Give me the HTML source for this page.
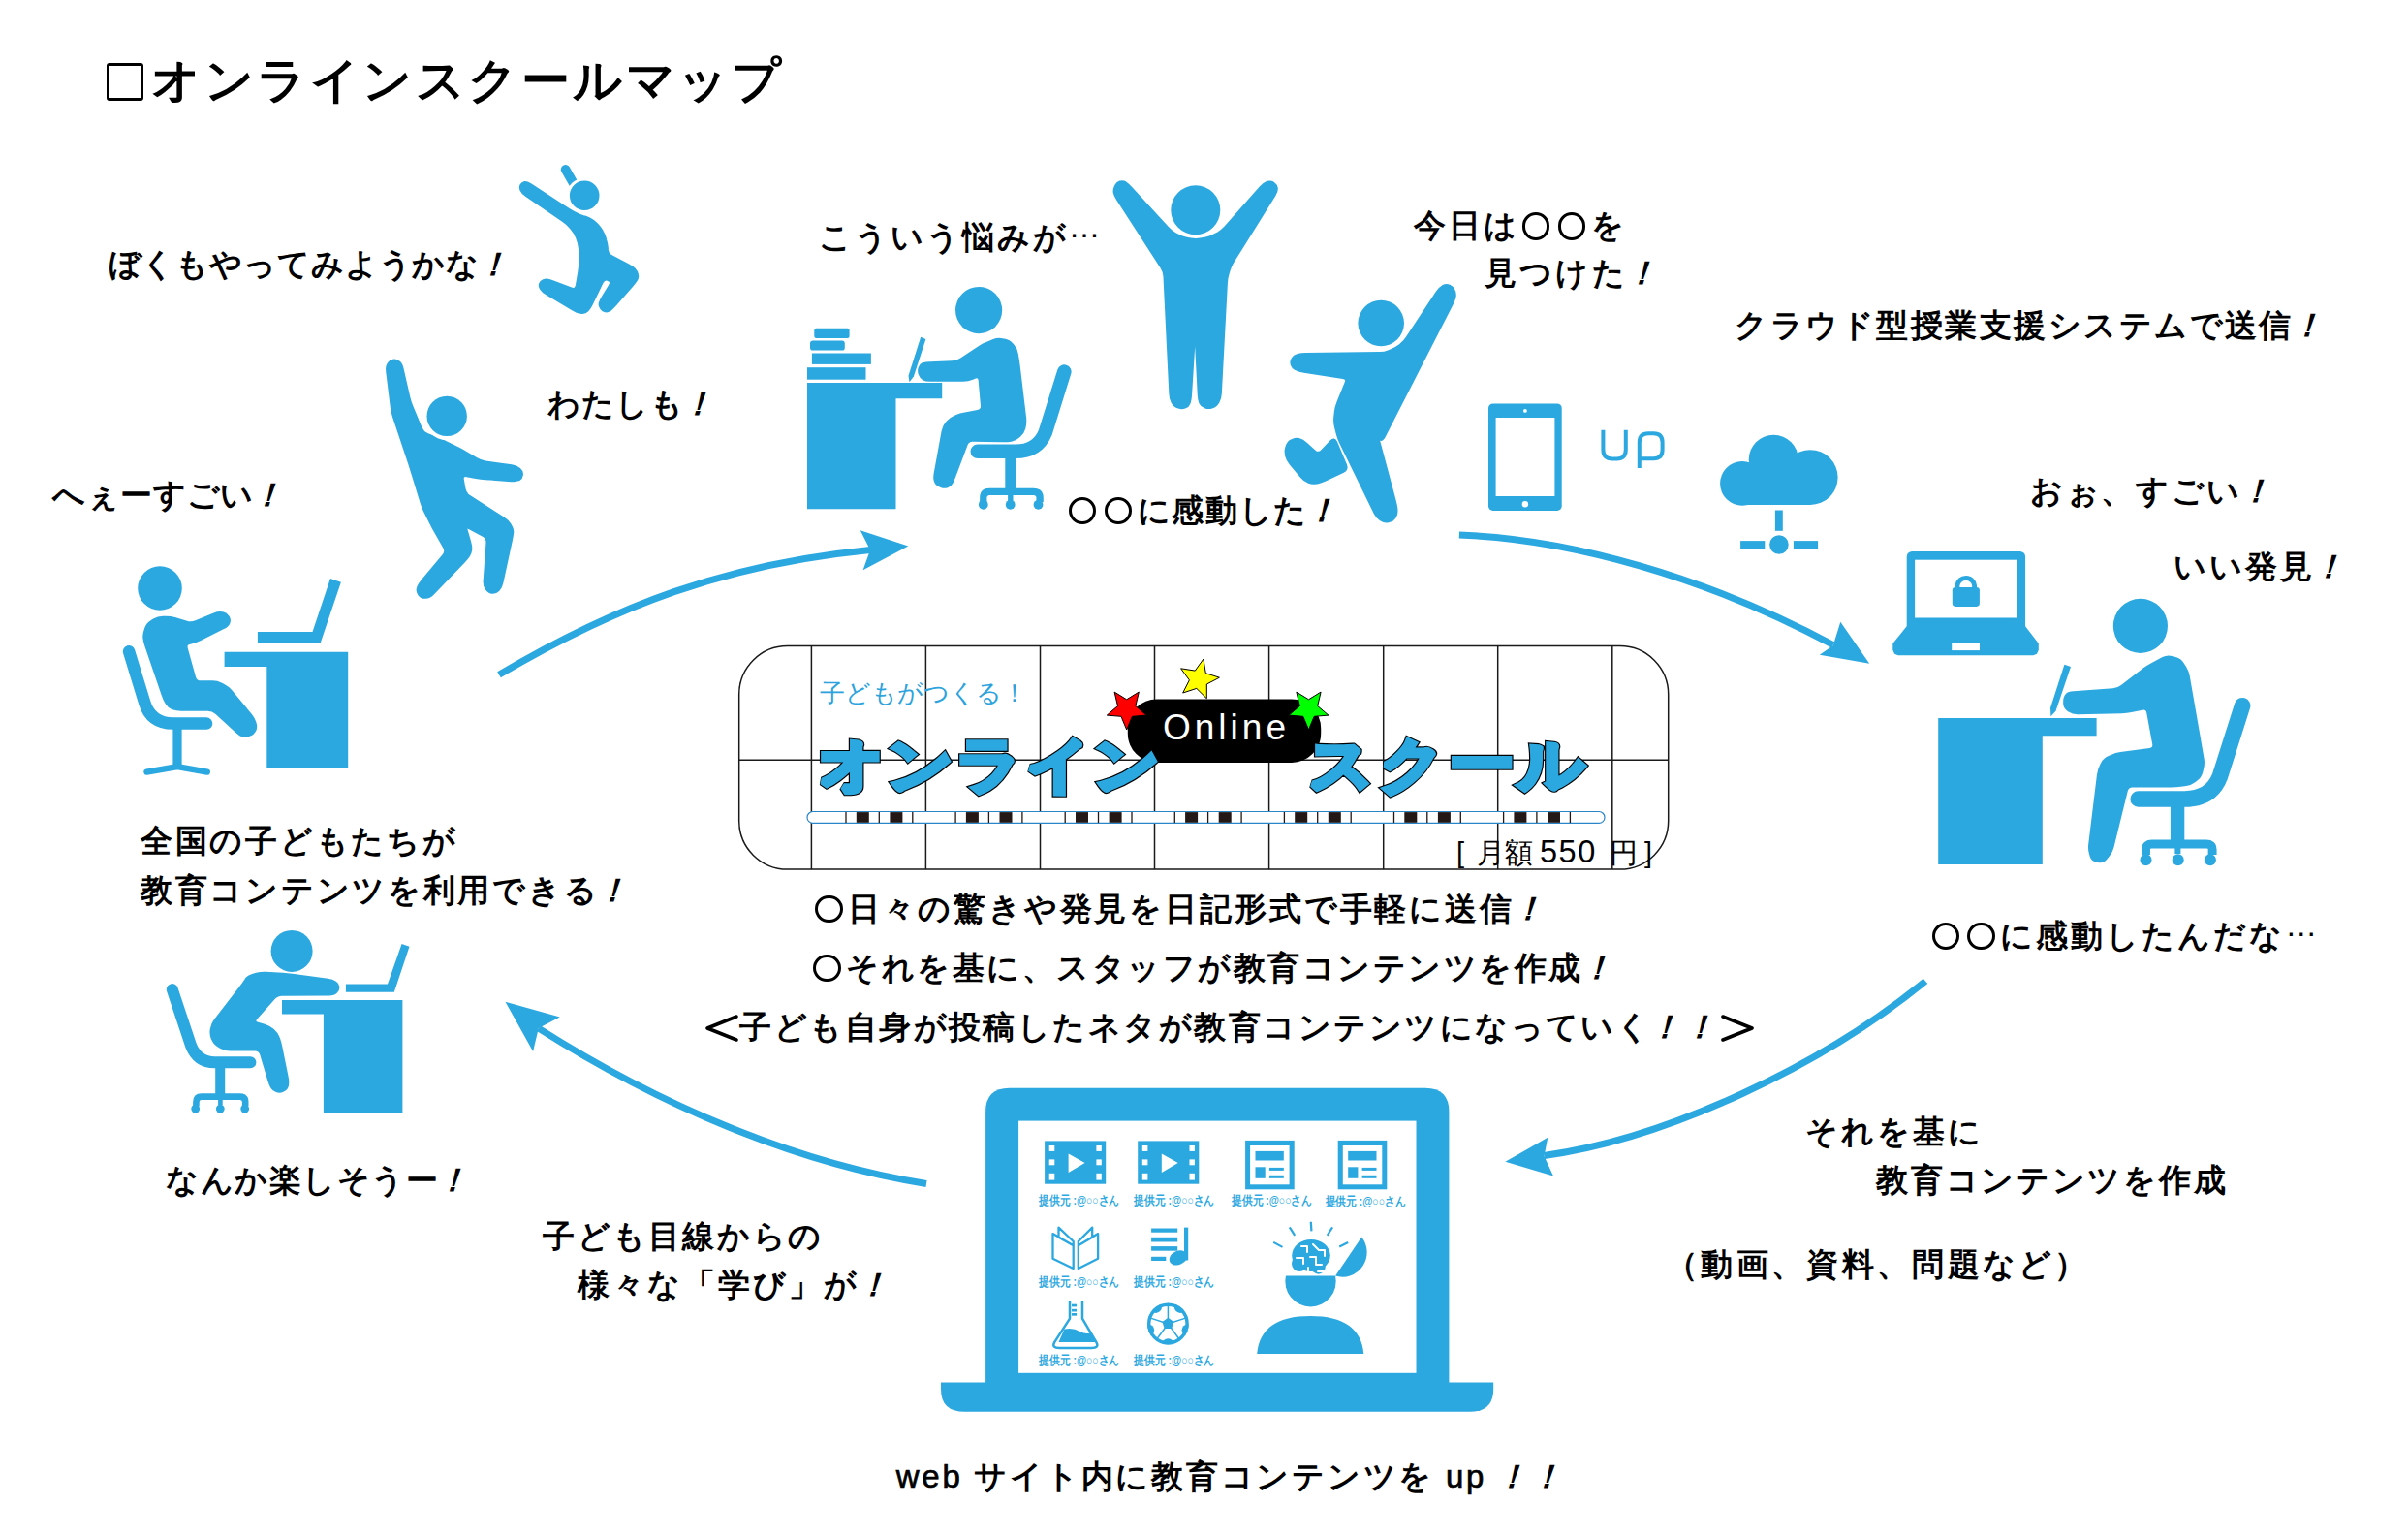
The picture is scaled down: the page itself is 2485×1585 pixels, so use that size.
<!DOCTYPE html>
<html><head><meta charset="utf-8">
<style>
html,body{margin:0;padding:0;background:#fff;}
#c{position:relative;width:2485px;height:1585px;overflow:hidden;background:#fff;}
.t{position:absolute;white-space:nowrap;font-family:"Liberation Sans",sans-serif;font-size:33px;letter-spacing:3px;line-height:1;color:#000;font-weight:bold;}
.o{display:inline-block;width:calc(1.02em + 3px);height:1em;position:relative;vertical-align:top;}
.o::after{content:"";position:absolute;left:.08em;top:.1em;width:.68em;height:.68em;border:.098em solid #000;border-radius:50%;}
.el{position:relative;top:-.32em;font-weight:normal}
svg{position:absolute;left:0;top:0;}
.br{display:inline-block;width:36px;height:33px;vertical-align:top;position:relative;}
svg.bs{position:absolute;left:0;top:0;}
.ex{display:inline-block;transform:skewX(-16deg);}
.lw{font-weight:normal;-webkit-text-stroke:.7px #000;}
</style></head><body><div id="c">
<svg width="2485" height="1585" viewBox="0 0 2485 1585">
<path d="M583.6,174.9 L591.9,189.3" fill="none" stroke="#2ca8e0" stroke-width="9.7" stroke-linecap="round" stroke-linejoin="round"/>
<path d="M537.6,195.7 Q536.6,193.2 537.6,191.3 L537.8,190.9 Q538.8,189 540.8,188.4 L541.2,188.3 Q543.2,187.7 547.4,190.4 L582.2,213.1 Q586.4,215.9 590.8,218.3 L593.1,219.6 Q597.5,222 602.2,223.4 L603.7,223.8 Q608.5,225.3 612.5,228.3 L613.4,228.9 Q617.4,231.9 620,236.2 L620.9,237.6 Q623.5,241.9 624.8,246.7 L625.1,248.1 Q626.4,252.9 626.7,257.2 L626.8,258.1 Q627.1,262.4 631.6,264.6 L648.3,273.3 Q652.8,275.6 654.8,277.9 L655.2,278.4 Q657.2,280.6 657.7,283.1 L657.8,283.7 Q658.3,286.1 657.1,288.4 L656.8,288.9 Q655.5,291.1 652.2,294.9 L635.1,314.5 Q631.8,318.2 629.8,319.7 L629.3,320.1 Q627.3,321.5 624.8,321.1 L624.3,320.9 Q621.8,320.4 620.3,318 L620,317.4 Q618.5,314.9 619,312.9 L619.1,312.5 Q619.6,310.5 622.2,306.2 L629.1,294.8 Q631.8,290.6 628,289.1 L627.2,288.7 Q623.5,287.2 621.3,291.8 L610.7,313.7 Q608.5,318.2 606.5,320.2 L606.1,320.7 Q604.1,322.7 601.1,322.7 L600.4,322.7 Q597.5,322.7 595.5,321.7 L595,321.4 Q593,320.4 588.7,317.9 L564.1,303.1 Q559.8,300.5 558.3,298 L558,297.5 Q556.5,295 557.3,293 L557.4,292.6 Q558.2,290.6 560.4,289.6 L560.9,289.3 Q563.2,288.4 565.1,288.9 L565.6,289 Q567.6,289.5 572.3,291.2 L589.5,297.7 Q594.1,299.4 595.1,294.5 L596.5,286.6 Q597.5,281.7 598,276.7 L598.6,270.1 Q599.1,265.1 598.5,260.2 L598,255.7 Q597.5,250.7 595.6,246.1 L594.9,244.3 Q593,239.7 589.7,235.9 L588.6,234.6 Q585.3,230.8 581.2,228 L542.9,201.6 Q538.8,198.7 537.8,196.2Z" fill="#2ca8e0" stroke="#2ca8e0" stroke-width="2.5" stroke-linejoin="round"/>
<circle cx="603.2" cy="201.8" r="18.3" fill="#fff"/>
<circle cx="603.2" cy="201.8" r="15.3" fill="#2ca8e0"/>
<path d="M399.3,380 Q399.3,377.6 400.9,375.2 L401.3,374.7 Q402.9,372.3 405.6,371.9 L406.2,371.8 Q409,371.4 411.4,373.4 L411.9,373.8 Q414.3,375.8 415.4,380.7 L422,409.6 Q423.1,414.5 425,419.1 L434.3,441.5 Q436.2,446.1 440.9,448.1 L452.7,453 Q457.3,454.9 461.8,457.2 L474,463.2 Q478.4,465.5 482.7,468 L491.7,473.4 Q496,476 501,476.7 L528,480.6 Q532.9,481.3 535.7,483.7 L536.3,484.2 Q539.1,486.6 538.7,489.7 L538.6,490.4 Q538.2,493.6 535.8,494.8 L535.3,495 Q532.9,496.2 527.9,495.9 L501,493.9 Q496,493.6 491.1,492.7 L481.6,491 Q476.7,490.1 477.6,495 L479.3,504.5 Q480.2,509.4 484.4,512.1 L519.9,534.8 Q524.1,537.5 526.5,541.5 L527,542.4 Q529.4,546.3 529,549.5 L528.9,550.2 Q528.5,553.4 527.5,558.2 L518.2,601.2 Q517.1,606.1 514.7,608.5 L514.2,609 Q511.8,611.4 508.7,611.4 L508,611.4 Q504.8,611.4 502.4,608.2 L501.9,607.5 Q499.5,604.3 499.9,599.3 L502.7,560.1 Q503,555.1 498.6,552.7 L484.6,545.2 Q480.2,542.8 481.6,547.6 L484.9,559.1 Q486.3,563.9 486,567.1 L485.9,567.8 Q485.5,570.9 483.9,573.3 L483.5,573.8 Q482,576.2 478.5,579.8 L446.7,613 Q443.3,616.6 439.3,616.6 L438.4,616.6 Q434.5,616.6 432.5,613.5 L432.1,612.8 Q430.1,609.6 431.3,606.4 L431.5,605.7 Q432.7,602.6 436,598.7 L457.6,573 Q460.9,569.2 458.4,564.8 L449.3,548.9 Q446.8,544.6 444.6,540.1 L438.5,527.9 Q436.2,523.5 434.8,518.7 L425.4,487.8 Q423.9,483 422.4,478.3 L406.2,429.8 Q404.6,425 404,420.1 L400,387.8 Q399.3,382.9 399.3,380.5Z" fill="#2ca8e0" stroke="#2ca8e0" stroke-width="2.5" stroke-linejoin="round"/>
<circle cx="461.2" cy="429.4" r="24.6" fill="#fff"/>
<circle cx="461.2" cy="429.4" r="20.7" fill="#2ca8e0"/>
<path d="M265.9,652 L322.5,652 L340.9,597 L351.9,600.8 L330.6,663.8 L265.9,663.8Z" fill="#2ca8e0"/>
<path d="M231.6,672.8 L359.2,672.8 L359.2,791.9 L275.3,791.9 L275.3,688 L231.6,688Z" fill="#2ca8e0"/>
<path d="M133.1,672.3 L149.1,724.7 Q155.3,746.6 178.8,746.6 L213.1,746.6" fill="none" stroke="#2ca8e0" stroke-width="12.5" stroke-linecap="round"/>
<rect x="178.4" y="746.6" width="9.2" height="43.8" rx="0" fill="#2ca8e0"/>
<path d="M151.4,796.6 L183.1,791.1 L213.9,796.6" fill="none" stroke="#2ca8e0" stroke-width="6.2" stroke-linecap="round" stroke-linejoin="round"/>
<path d="M148.6,657.9 Q148.3,654.4 150,649.7 L150.5,648.1 Q152.2,643.4 156.5,641 L158.8,639.7 Q163.1,637.2 168.1,637.1 L170.6,637 Q175.6,636.9 180.4,638.3 L192.7,642 Q197.5,643.4 202.1,641.5 L221,633.6 Q225.6,631.7 229.1,632.4 L229.9,632.6 Q233.4,633.3 235.2,636.1 L235.6,636.7 Q237.3,639.5 236.3,642.3 L236.1,643 Q235,645.8 230.5,648 L206.7,660 Q202.2,662.2 197.3,663.2 L196.1,663.5 Q191.2,664.5 192.6,669.3 L200.8,698.8 Q202.2,703.6 207.2,703.6 L219.1,703.6 Q224.1,703.6 228.5,705.8 L230.5,706.8 Q235,709.1 238.2,712.9 L259.1,738 Q262.3,741.9 263.4,746.1 L263.6,747 Q264.7,751.2 262.6,754.4 L262.1,755.1 Q260,758.3 255.8,759 L254.8,759.1 Q250.6,759.8 248.5,758.4 L248,758.1 Q245.9,756.7 242.2,753.3 L223.1,735.9 Q219.4,732.5 214.4,732.5 L186.9,732.5 Q181.9,732.5 178.4,731.1 L177.6,730.8 Q174.1,729.4 172,725.9 L171.5,725.1 Q169.4,721.6 167.8,716.8 L150.7,666.9 Q149.1,662.2 148.7,658.7Z" fill="#2ca8e0" stroke="#2ca8e0" stroke-width="2.5" stroke-linejoin="round"/>
<circle cx="165" cy="607" r="22.8" fill="#2ca8e0"/>
<path d="M356.9,1015.6 L400,1015.6 L414.6,973.9 L422.5,976.7 L406.8,1023.8 L356.9,1023.8Z" fill="#2ca8e0"/>
<path d="M291,1032 L415.4,1032 L415.4,1148.2 L333.9,1148.2 L333.9,1046.4 L291,1046.4Z" fill="#2ca8e0"/>
<path d="M177.8,1021.1 L196.9,1078.5 Q203.8,1096.3 221.5,1096.3 L258.4,1096.3" fill="none" stroke="#2ca8e0" stroke-width="12" stroke-linecap="round"/>
<rect x="222.2" y="1100.4" width="10" height="31.4" rx="0" fill="#2ca8e0"/>
<path d="M202.4,1141.4 L202.4,1137.3 Q202.4,1131.6 207.9,1131.6 L247.5,1131.6 Q253.2,1131.6 253.2,1137.3 L253.2,1141.4" fill="none" stroke="#2ca8e0" stroke-width="6.6"/>
<rect x="225.1" y="1131.6" width="4.6" height="8.5" rx="0" fill="#2ca8e0"/>
<circle cx="201.7" cy="1144.1" r="4.4" fill="#2ca8e0"/>
<circle cx="227.3" cy="1144.1" r="4.4" fill="#2ca8e0"/>
<circle cx="252.7" cy="1144.1" r="4.4" fill="#2ca8e0"/>
<path d="M253.9,1010.5 Q255.7,1007.4 260.5,1006.1 L264.6,1005 Q269.4,1003.7 274.4,1004 L291.7,1005.1 Q296.7,1005.4 301.7,1006 L338.3,1010.9 Q343.2,1011.5 345.7,1013.4 L346.2,1013.8 Q348.7,1015.6 349,1018.1 L349.1,1018.6 Q349.4,1021.1 347.2,1023.4 L346.7,1024 Q344.6,1026.3 339.6,1026.3 L290.8,1026.5 Q285.8,1026.6 282.5,1030.3 L264.5,1050.8 Q261.2,1054.6 266,1056 L272.8,1058 Q277.6,1059.4 281.3,1062.5 L282.1,1063.1 Q285.8,1066.2 287.3,1070.5 L287.7,1071.5 Q289.2,1075.8 290.2,1080.7 L296.4,1111.2 Q297.4,1116.1 296.8,1119.5 L296.7,1120.3 Q296,1123.6 292.7,1125.2 L291.9,1125.5 Q288.5,1127.1 285.4,1125.8 L284.8,1125.6 Q281.7,1124.3 280.5,1122.2 L280.2,1121.7 Q278.9,1119.5 277.5,1114.8 L269.5,1088.1 Q268,1083.3 263,1083.3 L237.5,1083.3 Q232.5,1083.3 228.1,1080.9 L225.9,1079.6 Q221.5,1077.2 219.6,1072.8 L219.1,1071.9 Q217.2,1067.6 217.9,1062.7 L218.1,1061.6 Q218.8,1056.6 221.9,1052.7 L248.5,1018.2 Q251.6,1014.3 253.5,1011.2Z" fill="#2ca8e0" stroke="#2ca8e0" stroke-width="2.5" stroke-linejoin="round"/>
<circle cx="301.1" cy="981.4" r="21.5" fill="#2ca8e0"/>
<circle cx="1010.1" cy="320.1" r="24.1" fill="#2ca8e0"/>
<rect x="840.3" y="338.8" width="36.3" height="10.1" rx="2" fill="#2ca8e0"/>
<rect x="836" y="351.5" width="35.8" height="10.1" rx="2.9" fill="#2ca8e0"/>
<rect x="837.9" y="364.5" width="61" height="11.4" rx="0" fill="#2ca8e0"/>
<rect x="833" y="379.2" width="60.5" height="12.5" rx="0" fill="#2ca8e0"/>
<path d="M833,395 L972.2,395 L972.2,411.3 L924.5,411.3 L924.5,525.2 L833,525.2Z" fill="#2ca8e0"/>
<path d="M950.2,347.8 L955.4,349.9 L942.9,388.5 L938.5,394.2 L937.5,387.7Z" fill="#2ca8e0"/>
<path d="M949.1,379.2 Q950.2,376.3 952.4,375.5 L952.9,375.4 Q955.1,374.6 960.1,374.4 L982.6,373.5 Q987.6,373.3 991.8,370.6 L1011.1,357.9 Q1015.3,355.1 1020,353.3 L1025.3,351.2 Q1030,349.4 1034.8,350.5 L1036.5,350.8 Q1041.4,351.8 1044.7,355.5 L1045.4,356.3 Q1048.7,360 1049.5,364.9 L1050.3,369.7 Q1051.1,374.6 1051.7,379.6 L1057.9,431.5 Q1058.4,436.5 1057.3,440.9 L1057.1,441.9 Q1056,446.2 1052.3,449.5 L1051.5,450.3 Q1047.9,453.6 1044.2,454.3 L1043.4,454.5 Q1039.7,455.2 1034.7,455.1 L1004,454.5 Q999,454.4 997.3,459.1 L986.1,488.8 Q984.4,493.5 982.9,496.7 L982.6,497.5 Q981.1,500.8 978.2,501.9 L977.6,502.1 Q974.6,503.2 971,501.8 L970.1,501.4 Q966.5,500 965.4,497 L965.1,496.4 Q964,493.5 964.9,488.5 L972.9,444.7 Q973.8,439.7 977.1,436.1 L977.8,435.3 Q981.1,431.6 985.5,429.8 L986.5,429.4 Q990.9,427.5 995.8,426.7 L1008.8,424.3 Q1013.7,423.5 1013.2,418.5 L1010.9,392.6 Q1010.4,387.7 1005.8,389.6 L1003.6,390.6 Q999,392.5 994,392.5 L960.1,392.5 Q955.1,392.5 952.9,391.1 L952.4,390.7 Q950.2,389.3 949.1,386.4 L948.9,385.7 Q947.8,382.8 948.9,379.8Z" fill="#2ca8e0" stroke="#2ca8e0" stroke-width="2.5" stroke-linejoin="round"/>
<path d="M1098.3,383.6 L1078.8,446.2 Q1070.7,465.8 1047.9,465.8 L1008.8,465.8" fill="none" stroke="#2ca8e0" stroke-width="14.6" stroke-linecap="round"/>
<rect x="1037.3" y="470.7" width="11.4" height="36.6" rx="0" fill="#2ca8e0"/>
<path d="M1014.8,517.9 L1014.8,513.8 Q1014.8,507.3 1021.3,507.3 L1066.6,507.3 Q1073.1,507.3 1073.1,513.8 L1073.1,517.9" fill="none" stroke="#2ca8e0" stroke-width="7.3"/>
<rect x="1040.1" y="507.3" width="5.4" height="9.8" rx="0" fill="#2ca8e0"/>
<circle cx="1014.8" cy="520.8" r="4.9" fill="#2ca8e0"/>
<circle cx="1042.7" cy="520.8" r="4.9" fill="#2ca8e0"/>
<circle cx="1071.5" cy="520.8" r="4.9" fill="#2ca8e0"/>
<path d="M1149.9,198.2 Q1149.6,195.7 1151,192.5 L1151.3,191.8 Q1152.8,188.6 1155.6,187.8 L1156.3,187.7 Q1159.1,187 1161.3,188.4 L1161.8,188.7 Q1163.9,190.2 1167.3,193.8 L1205.2,235.1 Q1208.6,238.8 1212.9,241.3 L1215.4,242.7 Q1219.8,245.2 1224.7,246 L1228.9,246.7 Q1233.8,247.6 1238.7,246.8 L1243.5,246 Q1248.5,245.2 1252.8,242.7 L1256.9,240.5 Q1261.2,238 1264.5,234.3 L1301,193.1 Q1304.3,189.4 1307.5,188.3 L1308.2,188 Q1311.5,187 1314,188.8 L1314.5,189.2 Q1317.1,191 1317.4,193.8 L1317.5,194.5 Q1317.9,197.3 1315.2,201.6 L1272.7,269.7 Q1270,273.9 1268.5,278.7 L1267.5,281.9 Q1266,286.7 1265.7,291.7 L1259.6,406.1 Q1259.3,411.1 1257.3,414.7 L1256.9,415.5 Q1254.9,419.1 1251.3,420.1 L1250.5,420.4 Q1246.9,421.5 1243.6,420 L1242.9,419.7 Q1239.7,418.3 1238.6,415.7 L1238.4,415.2 Q1237.3,412.7 1237,407.7 L1233.6,341.1 Q1233.3,336.1 1233,341.1 L1228.8,407.7 Q1228.5,412.7 1227.5,415.5 L1227.2,416.2 Q1226.1,419.1 1223.3,420.1 L1222.6,420.4 Q1219.8,421.5 1216.2,420.4 L1215.4,420.1 Q1211.8,419.1 1210,415.5 L1209.6,414.7 Q1207.8,411.1 1207.6,406.1 L1201.7,285.3 Q1201.4,280.3 1198.7,276.1 L1153.1,205.5 Q1150.4,201.3 1150,198.8Z" fill="#2ca8e0" stroke="#2ca8e0" stroke-width="2.5" stroke-linejoin="round"/>
<circle cx="1233.8" cy="216.8" r="25.5" fill="#2ca8e0"/>
<path d="M1332.9,375.9 Q1332.1,373.2 1333.6,370.5 L1334,369.8 Q1335.5,367.1 1338.6,366.4 L1339.3,366.2 Q1342.4,365.4 1347.4,365.3 L1423.7,364.3 Q1428.7,364.2 1433.3,362.3 L1436.1,361.2 Q1440.8,359.4 1444.7,356.3 L1445.5,355.6 Q1449.4,352.5 1452.1,348.3 L1482.9,301.4 Q1485.6,297.3 1488.7,295.5 L1489.4,295.2 Q1492.5,293.5 1495.6,294.8 L1496.3,295.1 Q1499.4,296.4 1500.6,299.9 L1500.9,300.7 Q1502,304.2 1501.2,306.9 L1501.1,307.5 Q1500.3,310.2 1498,314.6 L1428.4,450.7 Q1426.1,455.1 1424.2,453.2 L1423.7,452.7 Q1421.8,450.8 1423.1,455.6 L1439.5,516.7 Q1440.8,521.5 1441.2,525.4 L1441.2,526.3 Q1441.6,530.2 1439.7,533.3 L1439.3,534 Q1437.3,537.1 1433.4,537.9 L1432.6,538 Q1428.7,538.8 1425.2,536.5 L1424.4,536 Q1420.9,533.6 1418.7,529.1 L1383.4,457 Q1381.2,452.5 1380,447.7 L1378.1,440.1 Q1376.9,435.3 1377.5,430.3 L1378.1,424.7 Q1378.7,419.8 1380.6,415.1 L1388.8,395 Q1390.7,390.4 1385.8,389.7 L1345.6,383.4 Q1340.7,382.7 1337.6,381.1 L1336.9,380.8 Q1333.8,379.2 1333,376.5Z" fill="#2ca8e0" stroke="#2ca8e0" stroke-width="2.5" stroke-linejoin="round"/>
<path d="M1373.5,455.3 Q1376.9,451.7 1378.9,456.3 L1388.8,479.8 Q1390.7,484.5 1386.2,486.6 L1367.7,495.3 Q1363.1,497.4 1359.3,498.2 L1358.4,498.3 Q1354.5,499.1 1350.6,497.6 L1349.8,497.2 Q1345.9,495.7 1342.7,491.8 L1331.8,478.8 Q1328.6,475 1327.5,470.7 L1327.2,469.7 Q1326,465.5 1327.6,461.2 L1327.9,460.3 Q1329.5,456 1333,454.4 L1333.8,454.1 Q1337.3,452.5 1340.4,453.3 L1341,453.5 Q1344.2,454.3 1347.9,457.6 L1356.8,465.6 Q1360.5,468.9 1364,465.3Z" fill="#2ca8e0" stroke="#2ca8e0" stroke-width="2.5" stroke-linejoin="round"/>
<circle cx="1425.2" cy="333.5" r="23.8" fill="#2ca8e0"/>
<rect x="1536" y="416.4" width="75.7" height="110.5" rx="4.7" fill="#2ca8e0"/>
<rect x="1543.6" y="431" width="60.8" height="81" rx="0" fill="#fff"/>
<circle cx="1573.9" cy="423.9" r="1.9" fill="#fff"/>
<circle cx="1573.9" cy="520.2" r="3.2" fill="#fff"/>
<path d="M1654.4,443.7 V464 Q1654.4,473.4 1664,473.4 H1668.5 Q1677.8,473.4 1677.8,464 V443.7" fill="none" stroke="#2ca8e0" stroke-width="4"/>
<path d="M1691.8,483.1 V456.5 Q1691.8,447.3 1701,447.3 H1706.5 Q1715.6,447.3 1715.6,456.5 V464 Q1715.6,473.2 1706.5,473.2 H1691.8" fill="none" stroke="#2ca8e0" stroke-width="4"/>
<circle cx="1798" cy="498.9" r="22.9" fill="#2ca8e0"/>
<circle cx="1830.3" cy="474.4" r="25.6" fill="#2ca8e0"/>
<circle cx="1868.2" cy="492.6" r="28.4" fill="#2ca8e0"/>
<rect x="1798" y="492.6" width="70.2" height="28.4" rx="0" fill="#2ca8e0"/>
<rect x="1831.9" y="526.5" width="7.9" height="21.3" rx="0" fill="#2ca8e0"/>
<circle cx="1835.9" cy="562" r="9.8" fill="#2ca8e0"/>
<rect x="1796.1" y="558.1" width="25.2" height="8.7" rx="0" fill="#2ca8e0"/>
<rect x="1850.9" y="558.1" width="25.2" height="8.7" rx="0" fill="#2ca8e0"/>
<rect x="1967.7" y="568.9" width="122.4" height="84.1" rx="5.5" fill="#2ca8e0"/>
<rect x="1976.1" y="577.7" width="105.1" height="59.8" rx="0" fill="#fff"/>
<path d="M1967.7,646.3 L2090.1,646.3 L2103.8,664 L2103.8,670.7 L2102,674.7 L2098.3,676.2 L1958.8,676.2 L1955.1,674.7 L1953.3,670.7 L1953.3,664Z" fill="#2ca8e0"/>
<rect x="2014.2" y="663.6" width="28.8" height="7.5" rx="0" fill="#fff"/>
<rect x="2014.8" y="606" width="28.1" height="19.9" rx="3.3" fill="#2ca8e0"/>
<path d="M2019.9,607.6 V604.3 A8.9,8.9 0 0 1 2037.6,604.3 V607.6" fill="none" stroke="#2ca8e0" stroke-width="4.9"/>
<path d="M2000.2,741.1 L2163.6,741.1 L2163.6,759.2 L2107.8,759.2 L2107.8,892 L2000.2,892Z" fill="#2ca8e0"/>
<path d="M2130.4,685.7 L2137,687.9 L2121.5,733.8 L2116.4,739.3 L2116,730.4Z" fill="#2ca8e0"/>
<path d="M2130.4,724.4 Q2130.4,719.4 2132.4,717.4 L2132.8,716.9 Q2134.8,714.9 2139.8,714.6 L2180.7,711.6 Q2185.7,711.2 2189.7,708.1 L2212.7,690.3 Q2216.7,687.3 2221.1,685 L2232.2,679.2 Q2236.6,676.9 2241.4,678.2 L2245.1,679.3 Q2249.9,680.6 2252.6,684.9 L2255,688.6 Q2257.6,692.8 2258.5,697.7 L2273.4,783.1 Q2274.2,788 2273,792.8 L2272.1,796.4 Q2270.9,801.3 2267,804.3 L2264.9,806 Q2261,809 2256,809.7 L2250.4,810.5 Q2245.5,811.2 2240.5,811.2 L2200.7,811.2 Q2195.7,811.2 2194.5,816.1 L2180.3,873.9 Q2179.1,878.8 2175.9,882.7 L2173.3,885.9 Q2170.2,889.8 2165.3,888.8 L2164,888.6 Q2159.1,887.6 2157.7,882.8 L2157.3,881.3 Q2155.8,876.5 2156.4,871.6 L2165.2,799.6 Q2165.8,794.6 2168,790.2 L2169.1,788 Q2171.3,783.6 2175.9,781.5 L2178.9,780.1 Q2183.5,778 2188.4,777.3 L2218.4,773.2 Q2223.3,772.5 2222.4,767.6 L2216.5,735.4 Q2215.6,730.4 2210.7,731.5 L2199.5,733.8 Q2194.6,734.9 2189.6,735 L2144.2,735.9 Q2139.2,736 2135.2,733.5 L2134.4,732.9 Q2130.4,730.4 2130.4,725.5Z" fill="#2ca8e0" stroke="#2ca8e0" stroke-width="2.5" stroke-linejoin="round"/>
<circle cx="2208.9" cy="645.9" r="28.1" fill="#2ca8e0"/>
<path d="M2314.1,728.2 L2290.9,801.3 Q2282,824.5 2254.3,824.5 L2206.7,824.5" fill="none" stroke="#2ca8e0" stroke-width="16.6" stroke-linecap="round"/>
<rect x="2239.9" y="831.2" width="14.4" height="39.8" rx="0" fill="#2ca8e0"/>
<path d="M2214.5,882.1 V876.5 Q2214.5,871 2220.7,871 H2276.9 Q2283.1,871 2283.1,876.5 V882.1" fill="none" stroke="#2ca8e0" stroke-width="8.9"/>
<rect x="2244.4" y="871" width="6" height="10" rx="0" fill="#2ca8e0"/>
<circle cx="2214.5" cy="887.2" r="6" fill="#2ca8e0"/>
<circle cx="2247.7" cy="887.2" r="6" fill="#2ca8e0"/>
<circle cx="2280.9" cy="887.2" r="6" fill="#2ca8e0"/>
<path d="M1017.1,1428.5 V1147.2 Q1017.1,1122.7 1041.6,1122.7 H1470.9 Q1495.4,1122.7 1495.4,1147.2 V1428.5 Z" fill="#2ca8e0"/>
<rect x="1051.1" y="1156.6" width="410.4" height="260.2" rx="0" fill="#fff"/>
<path d="M971,1426.6 H1541.2 V1433.4 Q1541.2,1456.7 1516.7,1456.7 H995.5 Q971,1456.7 971,1433.4 Z" fill="#2ca8e0"/>
<rect x="1078.1" y="1177.4" width="63.1" height="44.3" rx="0" fill="#2ca8e0"/>
<rect x="1082.7" y="1182" width="5.6" height="5.9" rx="0" fill="#fff"/>
<rect x="1131.4" y="1182" width="5.4" height="5.9" rx="0" fill="#fff"/>
<rect x="1082.7" y="1196.4" width="5.6" height="5.9" rx="0" fill="#fff"/>
<rect x="1131.4" y="1196.4" width="5.4" height="5.9" rx="0" fill="#fff"/>
<rect x="1082.7" y="1210.8" width="5.6" height="6.8" rx="0" fill="#fff"/>
<rect x="1131.4" y="1210.8" width="5.4" height="6.8" rx="0" fill="#fff"/>
<path d="M1102.6,1190.5 L1102.6,1209.9 L1119.6,1200.1Z" fill="#fff"/>
<rect x="1174.2" y="1177.4" width="63.1" height="44.3" rx="0" fill="#2ca8e0"/>
<rect x="1178.8" y="1182" width="5.6" height="5.9" rx="0" fill="#fff"/>
<rect x="1227.5" y="1182" width="5.4" height="5.9" rx="0" fill="#fff"/>
<rect x="1178.8" y="1196.4" width="5.6" height="5.9" rx="0" fill="#fff"/>
<rect x="1227.5" y="1196.4" width="5.4" height="5.9" rx="0" fill="#fff"/>
<rect x="1178.8" y="1210.8" width="5.6" height="6.8" rx="0" fill="#fff"/>
<rect x="1227.5" y="1210.8" width="5.4" height="6.8" rx="0" fill="#fff"/>
<path d="M1198.8,1190.5 L1198.8,1209.9 L1215.7,1200.1Z" fill="#fff"/>
<path d="M1086.5,1273.1 L1107.7,1285.3 L1107.7,1309 L1086.5,1298.8 Z M1133.1,1273.1 L1112.8,1285.3 L1112.8,1309 L1133.1,1298.8 Z M1092.5,1266.6 L1107.7,1281 L1107.7,1285.3 L1092.5,1276.8 Z M1127.2,1266.6 L1112.8,1281 L1112.8,1285.3 L1127.2,1276.8 Z" fill="none" stroke="#2ca8e0" stroke-width="2.3" stroke-linejoin="round"/>
<rect x="1188.1" y="1267.5" width="27.1" height="4.2" rx="0" fill="#2ca8e0"/>
<rect x="1188.1" y="1276.8" width="27.1" height="4.7" rx="0" fill="#2ca8e0"/>
<rect x="1188.1" y="1286.1" width="27.1" height="4.6" rx="0" fill="#2ca8e0"/>
<rect x="1188.1" y="1296.8" width="15.2" height="4.2" rx="0" fill="#2ca8e0"/>
<rect x="1222" y="1266.6" width="4.2" height="33.9" rx="0" fill="#2ca8e0"/>
<ellipse cx="1216" cy="1297.9" rx="9.8" ry="7.1" fill="#2ca8e0" transform="rotate(-25 1216 1297.9)"/>
<path d="M1104,1342 V1360.6 L1088.2,1385.1 Q1084.9,1391 1093.3,1391 H1126.3 Q1134.8,1391 1131.4,1385.1 L1117,1360.6 V1342" fill="none" stroke="#2ca8e0" stroke-width="2.5" stroke-linejoin="round"/>
<rect x="1106" y="1345.7" width="5.1" height="2.7" rx="0" fill="#2ca8e0"/>
<rect x="1106" y="1350.8" width="5.1" height="2.7" rx="0" fill="#2ca8e0"/>
<rect x="1106" y="1355" width="5.1" height="2.7" rx="0" fill="#2ca8e0"/>
<path d="M1098.4,1371.6 Q1107.7,1369.9 1114.5,1374.1 Q1121.2,1377.5 1126.3,1375 L1130.6,1385.1 H1092.5 Z" fill="#2ca8e0"/>
<defs><clipPath id="ballclip"><circle cx="1205.4" cy="1366" r="21.4"/></clipPath></defs>
<circle cx="1205.4" cy="1366" r="19.7" fill="#fff" stroke="#2ca8e0" stroke-width="3.4"/>
<g clip-path="url(#ballclip)">
<path d="M1205.4,1359.7 L1211.4,1364.1 L1209.1,1371.1 L1201.7,1371.1 L1199.4,1364.1Z" fill="#2ca8e0"/>
<path d="M1205.4,1366 L1205.4,1344.6" fill="none" stroke="#2ca8e0" stroke-width="1.5" stroke-linecap="butt" stroke-linejoin="round"/>
<circle cx="1218" cy="1348.7" r="6.2" fill="#2ca8e0"/>
<path d="M1205.4,1366 L1225.8,1359.4" fill="none" stroke="#2ca8e0" stroke-width="1.5" stroke-linecap="butt" stroke-linejoin="round"/>
<circle cx="1225.8" cy="1372.6" r="6.2" fill="#2ca8e0"/>
<path d="M1205.4,1366 L1218,1383.3" fill="none" stroke="#2ca8e0" stroke-width="1.5" stroke-linecap="butt" stroke-linejoin="round"/>
<circle cx="1205.4" cy="1387.4" r="6.2" fill="#2ca8e0"/>
<path d="M1205.4,1366 L1192.8,1383.3" fill="none" stroke="#2ca8e0" stroke-width="1.5" stroke-linecap="butt" stroke-linejoin="round"/>
<circle cx="1185" cy="1372.6" r="6.2" fill="#2ca8e0"/>
<path d="M1205.4,1366 L1185,1359.4" fill="none" stroke="#2ca8e0" stroke-width="1.5" stroke-linecap="butt" stroke-linejoin="round"/>
<circle cx="1192.8" cy="1348.7" r="6.2" fill="#2ca8e0"/>
</g>
<rect x="1285.1" y="1176.9" width="50.6" height="50.4" rx="0" fill="#2ca8e0"/>
<rect x="1290.1" y="1182" width="40.5" height="40.3" rx="0" fill="#fff"/>
<rect x="1295.5" y="1187.9" width="29.3" height="9.6" rx="0" fill="#2ca8e0"/>
<rect x="1295.5" y="1204.3" width="10.2" height="11.5" rx="0" fill="#2ca8e0"/>
<rect x="1309.9" y="1204.9" width="14.9" height="3" rx="0" fill="#2ca8e0"/>
<rect x="1309.9" y="1212.8" width="14.9" height="3" rx="0" fill="#2ca8e0"/>
<rect x="1380.7" y="1176.9" width="50.6" height="50.4" rx="0" fill="#2ca8e0"/>
<rect x="1385.8" y="1182" width="40.5" height="40.3" rx="0" fill="#fff"/>
<rect x="1391.2" y="1187.9" width="29.3" height="9.6" rx="0" fill="#2ca8e0"/>
<rect x="1391.2" y="1204.3" width="10.2" height="11.5" rx="0" fill="#2ca8e0"/>
<rect x="1405.6" y="1204.9" width="14.9" height="3" rx="0" fill="#2ca8e0"/>
<rect x="1405.6" y="1212.8" width="14.9" height="3" rx="0" fill="#2ca8e0"/>
<path d="M1297.2,1397 Q1300.6,1358 1352.2,1358 Q1403.9,1358 1407.3,1397 Z" fill="#2ca8e0"/>
<path d="M1326.9,1316.6 A26.2,26.2 0 1 0 1378.1,1316.6 Z" fill="#2ca8e0"/>
<path d="M1378.1,1316.6 A25.4,25.4 0 0 0 1405.2,1276.5 Z" fill="#2ca8e0"/>
<ellipse cx="1353" cy="1295.5" rx="19.8" ry="16.5" fill="#2ca8e0"/>
<circle cx="1360.5" cy="1307.5" r="7.2" fill="#2ca8e0"/>
<circle cx="1341" cy="1304" r="8" fill="#2ca8e0"/>
<path d="M1314.2,1281.9 L1323.5,1286.9" fill="none" stroke="#2ca8e0" stroke-width="2.2" stroke-linecap="butt" stroke-linejoin="round"/>
<path d="M1330.8,1266.3 L1336.2,1274.8" fill="none" stroke="#2ca8e0" stroke-width="2.2" stroke-linecap="butt" stroke-linejoin="round"/>
<path d="M1352.8,1260.7 L1353.4,1270.4" fill="none" stroke="#2ca8e0" stroke-width="2.2" stroke-linecap="butt" stroke-linejoin="round"/>
<path d="M1369.7,1274.8 L1375.1,1266.3" fill="none" stroke="#2ca8e0" stroke-width="2.2" stroke-linecap="butt" stroke-linejoin="round"/>
<path d="M1382.2,1286.6 L1391.2,1281.9" fill="none" stroke="#2ca8e0" stroke-width="2.2" stroke-linecap="butt" stroke-linejoin="round"/>
<path d="M1343,1286 L1349,1286 L1349,1292" fill="none" stroke="#fff" stroke-width="2" stroke-linecap="round" stroke-linejoin="round"/>
<path d="M1355,1284 L1361,1290 L1367,1290 L1367,1296" fill="none" stroke="#fff" stroke-width="2" stroke-linecap="round" stroke-linejoin="round"/>
<path d="M1338,1298 L1345,1298 L1345,1304" fill="none" stroke="#fff" stroke-width="2" stroke-linecap="round" stroke-linejoin="round"/>
<path d="M1352,1297 L1358,1297 L1358,1305 L1364,1305" fill="none" stroke="#fff" stroke-width="2" stroke-linecap="round" stroke-linejoin="round"/>
<path d="M1350,1308 L1350,1313" fill="none" stroke="#fff" stroke-width="2" stroke-linecap="round" stroke-linejoin="round"/>
<path d="M1360,1312 L1366,1312" fill="none" stroke="#fff" stroke-width="2" stroke-linecap="round" stroke-linejoin="round"/>
<text x="1072.2" y="1242.6" font-family="Liberation Sans, sans-serif" font-size="12.5" font-weight="bold" fill="#2ca8e0" textLength="83" lengthAdjust="spacingAndGlyphs">提供元 :@○○さん</text>
<text x="1170.3" y="1242.6" font-family="Liberation Sans, sans-serif" font-size="12.5" font-weight="bold" fill="#2ca8e0" textLength="83" lengthAdjust="spacingAndGlyphs">提供元 :@○○さん</text>
<text x="1271" y="1243" font-family="Liberation Sans, sans-serif" font-size="12.5" font-weight="bold" fill="#2ca8e0" textLength="83" lengthAdjust="spacingAndGlyphs">提供元 :@○○さん</text>
<text x="1367.5" y="1243.5" font-family="Liberation Sans, sans-serif" font-size="12.5" font-weight="bold" fill="#2ca8e0" textLength="83" lengthAdjust="spacingAndGlyphs">提供元 :@○○さん</text>
<text x="1072.2" y="1327.2" font-family="Liberation Sans, sans-serif" font-size="12.5" font-weight="bold" fill="#2ca8e0" textLength="83" lengthAdjust="spacingAndGlyphs">提供元 :@○○さん</text>
<text x="1170.3" y="1327.2" font-family="Liberation Sans, sans-serif" font-size="12.5" font-weight="bold" fill="#2ca8e0" textLength="83" lengthAdjust="spacingAndGlyphs">提供元 :@○○さん</text>
<text x="1072.2" y="1407.8" font-family="Liberation Sans, sans-serif" font-size="12.5" font-weight="bold" fill="#2ca8e0" textLength="83" lengthAdjust="spacingAndGlyphs">提供元 :@○○さん</text>
<text x="1170.3" y="1407.8" font-family="Liberation Sans, sans-serif" font-size="12.5" font-weight="bold" fill="#2ca8e0" textLength="83" lengthAdjust="spacingAndGlyphs">提供元 :@○○さん</text>
<path d="M515,696.3 C635.5,625 748.7,582 898,567.4" fill="none" stroke="#2ca8e0" stroke-width="7"/>
<path d="M937.3,563.6 L887.8,547.2 L898,567.4 L890.6,588.3Z" fill="#2ca8e0"/>
<path d="M1505.9,552 C1620,556 1760,595 1891.8,665.5" fill="none" stroke="#2ca8e0" stroke-width="7"/>
<path d="M1929.2,684.7 L1899.3,641.8 L1891.8,666 L1877.8,675.8Z" fill="#2ca8e0"/>
<path d="M1987,1012.4 C1880,1100 1720,1175 1593.5,1192.5" fill="none" stroke="#2ca8e0" stroke-width="7"/>
<path d="M1553.4,1198.7 L1597.3,1173.8 L1593.5,1192.9 L1603,1213.6Z" fill="#2ca8e0"/>
<path d="M956,1221.5 C820,1200 680,1140 555.8,1061.1" fill="none" stroke="#2ca8e0" stroke-width="7"/>
<path d="M521.5,1033.8 L577.8,1049.6 L555.8,1061.1 L550.1,1085Z" fill="#2ca8e0"/>
<rect x="762.7" y="666.6" width="959" height="230.5" rx="50" fill="none" stroke="#1a1a1a" stroke-width="1.5"/>
<line x1="837.4" y1="666.6" x2="837.4" y2="897.1" stroke="#1a1a1a" stroke-width="1.5"/>
<line x1="955.4" y1="666.6" x2="955.4" y2="897.1" stroke="#1a1a1a" stroke-width="1.5"/>
<line x1="1073.5" y1="666.6" x2="1073.5" y2="897.1" stroke="#1a1a1a" stroke-width="1.5"/>
<line x1="1191.5" y1="666.6" x2="1191.5" y2="897.1" stroke="#1a1a1a" stroke-width="1.5"/>
<line x1="1309.6" y1="666.6" x2="1309.6" y2="897.1" stroke="#1a1a1a" stroke-width="1.5"/>
<line x1="1427.7" y1="666.6" x2="1427.7" y2="897.1" stroke="#1a1a1a" stroke-width="1.5"/>
<line x1="1545.7" y1="666.6" x2="1545.7" y2="897.1" stroke="#1a1a1a" stroke-width="1.5"/>
<line x1="1663.8" y1="666.6" x2="1663.8" y2="897.1" stroke="#1a1a1a" stroke-width="1.5"/>
<line x1="762.7" y1="784.2" x2="1721.7" y2="784.2" stroke="#1a1a1a" stroke-width="1.5"/>
<rect x="833" y="837.5" width="823" height="11.8" rx="5.9" fill="#fff" stroke="#2a86c8" stroke-width="1.2"/>
<line x1="873" y1="838" x2="873" y2="849" stroke="#231815" stroke-width="1.3"/>
<line x1="907.3" y1="838" x2="907.3" y2="849" stroke="#231815" stroke-width="1.3"/>
<line x1="941.8" y1="838" x2="941.8" y2="849" stroke="#231815" stroke-width="1.3"/>
<rect x="883.8" y="838.1" width="13" height="10.7" rx="0" fill="#231815"/>
<rect x="918.4" y="838.1" width="13" height="10.7" rx="0" fill="#231815"/>
<line x1="986.1" y1="838" x2="986.1" y2="849" stroke="#231815" stroke-width="1.3"/>
<line x1="1020.4" y1="838" x2="1020.4" y2="849" stroke="#231815" stroke-width="1.3"/>
<line x1="1054.9" y1="838" x2="1054.9" y2="849" stroke="#231815" stroke-width="1.3"/>
<rect x="996.9" y="838.1" width="13" height="10.7" rx="0" fill="#231815"/>
<rect x="1031.5" y="838.1" width="13" height="10.7" rx="0" fill="#231815"/>
<line x1="1099.2" y1="838" x2="1099.2" y2="849" stroke="#231815" stroke-width="1.3"/>
<line x1="1133.5" y1="838" x2="1133.5" y2="849" stroke="#231815" stroke-width="1.3"/>
<line x1="1168" y1="838" x2="1168" y2="849" stroke="#231815" stroke-width="1.3"/>
<rect x="1110" y="838.1" width="13" height="10.7" rx="0" fill="#231815"/>
<rect x="1144.6" y="838.1" width="13" height="10.7" rx="0" fill="#231815"/>
<line x1="1212.3" y1="838" x2="1212.3" y2="849" stroke="#231815" stroke-width="1.3"/>
<line x1="1246.6" y1="838" x2="1246.6" y2="849" stroke="#231815" stroke-width="1.3"/>
<line x1="1281.1" y1="838" x2="1281.1" y2="849" stroke="#231815" stroke-width="1.3"/>
<rect x="1223.1" y="838.1" width="13" height="10.7" rx="0" fill="#231815"/>
<rect x="1257.7" y="838.1" width="13" height="10.7" rx="0" fill="#231815"/>
<line x1="1325.4" y1="838" x2="1325.4" y2="849" stroke="#231815" stroke-width="1.3"/>
<line x1="1359.7" y1="838" x2="1359.7" y2="849" stroke="#231815" stroke-width="1.3"/>
<line x1="1394.2" y1="838" x2="1394.2" y2="849" stroke="#231815" stroke-width="1.3"/>
<rect x="1336.2" y="838.1" width="13" height="10.7" rx="0" fill="#231815"/>
<rect x="1370.8" y="838.1" width="13" height="10.7" rx="0" fill="#231815"/>
<line x1="1438.5" y1="838" x2="1438.5" y2="849" stroke="#231815" stroke-width="1.3"/>
<line x1="1472.8" y1="838" x2="1472.8" y2="849" stroke="#231815" stroke-width="1.3"/>
<line x1="1507.3" y1="838" x2="1507.3" y2="849" stroke="#231815" stroke-width="1.3"/>
<rect x="1449.3" y="838.1" width="13" height="10.7" rx="0" fill="#231815"/>
<rect x="1483.9" y="838.1" width="13" height="10.7" rx="0" fill="#231815"/>
<line x1="1551.6" y1="838" x2="1551.6" y2="849" stroke="#231815" stroke-width="1.3"/>
<line x1="1585.9" y1="838" x2="1585.9" y2="849" stroke="#231815" stroke-width="1.3"/>
<line x1="1620.4" y1="838" x2="1620.4" y2="849" stroke="#231815" stroke-width="1.3"/>
<rect x="1562.4" y="838.1" width="13" height="10.7" rx="0" fill="#231815"/>
<rect x="1597" y="838.1" width="13" height="10.7" rx="0" fill="#231815"/>
<rect x="1163.8" y="721.5" width="199.4" height="65.4" rx="30" fill="#000"/>
<text x="846" y="724" font-family="Liberation Sans, sans-serif" font-size="26" fill="#2ca3dc">子どもがつくる！</text>
<g transform="translate(0,787) scale(1,0.92) translate(0,-787)">
<text x="845" y="812" font-family="Liberation Sans, sans-serif" font-size="66" letter-spacing="4.45" font-weight="bold" fill="#000" stroke="#000" stroke-width="8.4" stroke-linejoin="miter" stroke-miterlimit="2">オンライン</text>
<text x="845" y="812" font-family="Liberation Sans, sans-serif" font-size="66" letter-spacing="4.45" font-weight="bold" fill="#2ca8e0" stroke="#2ca8e0" stroke-width="6" stroke-linejoin="miter" stroke-miterlimit="2">オンライン</text>
<text x="1350" y="812" font-family="Liberation Sans, sans-serif" font-size="66" letter-spacing="6.2" font-weight="bold" fill="#000" stroke="#000" stroke-width="8.4" stroke-linejoin="miter" stroke-miterlimit="2">スクール</text>
<text x="1350" y="812" font-family="Liberation Sans, sans-serif" font-size="66" letter-spacing="6.2" font-weight="bold" fill="#2ca8e0" stroke="#2ca8e0" stroke-width="6" stroke-linejoin="miter" stroke-miterlimit="2">スクール</text>
</g>
<text x="1200" y="763" font-family="Liberation Sans, sans-serif" font-size="37" letter-spacing="4" fill="#fff">Online</text>
<text x="1503" y="890" font-family="Liberation Sans, sans-serif" font-size="29" letter-spacing="0" fill="#000">[</text>
<text x="1524" y="890" font-family="Liberation Sans, sans-serif" font-size="29" letter-spacing="0" fill="#000">月額</text>
<text x="1589" y="890" font-family="Liberation Sans, sans-serif" font-size="32.5" letter-spacing="1.5" fill="#000">550</text>
<text x="1661" y="890" font-family="Liberation Sans, sans-serif" font-size="29" letter-spacing="0" fill="#000">円</text>
<text x="1697" y="890" font-family="Liberation Sans, sans-serif" font-size="29" letter-spacing="0" fill="#000">]</text>
<path d="M1162.7,753 L1157,739.3 L1142.3,738.1 L1153.5,728.5 L1150.1,714.1 L1162.7,721.8 L1175.3,714.1 L1171.9,728.5 L1183.1,738.1 L1168.4,739.3Z" fill="#ff0000" stroke="#000" stroke-width="1"/>
<path d="M1241.9,680.1 L1244.3,694.7 L1258.4,699.2 L1245.3,706 L1245.3,720.8 L1234.8,710.4 L1220.7,715 L1227.4,701.8 L1218.6,689.8 L1233.3,692.1Z" fill="#ffff00" stroke="#000" stroke-width="1"/>
<path d="M1350.5,753 L1344.8,739.3 L1330.1,738.1 L1341.3,728.5 L1337.9,714.1 L1350.5,721.8 L1363.1,714.1 L1359.7,728.5 L1370.9,738.1 L1356.2,739.3Z" fill="#00ff00" stroke="#000" stroke-width="1"/>
</svg>
<!-- TEXTS -->
<div class="t" style="left:156px;top:58px;font-size:50px;letter-spacing:3.5px">オンラインスクールマップ</div>
<div style="position:absolute;left:110px;top:65px;width:32px;height:33px;border:3.5px solid #000;border-radius:3px"></div>
<div class="t" style="left:111.6px;top:256.2px;letter-spacing:0.87px">ぼくもやってみようかな<span class="ex">！</span></div>
<div class="t" style="left:565.0px;top:400.0px;letter-spacing:1.20px">わたしも<span class="ex">！</span></div>
<div class="t" style="left:54.0px;top:494.2px;letter-spacing:0.90px">へぇーすごい<span class="ex">！</span></div>
<div class="t" style="left:844.6px;top:227.5px;letter-spacing:3.00px">こういう悩みが<span class="el">…</span></div>
<div class="t" style="left:1459.4px;top:216.2px;letter-spacing:3.00px">今日は<span class="o"></span><span class="o"></span>を</div>
<div class="t" style="left:1531.8px;top:264.8px;letter-spacing:3.32px">見つけた<span class="ex">！</span></div>
<div class="t" style="left:1790.4px;top:318.5px;letter-spacing:2.47px">クラウド型授業支援システムで送信<span class="ex">！</span></div>
<div class="t" style="left:1100.4px;top:509.5px;letter-spacing:1.64px"><span class="o"></span><span class="o"></span>に感動した<span class="ex">！</span></div>
<div class="t" style="left:2095.2px;top:489.6px;letter-spacing:2.65px">おぉ、すごい<span class="ex">！</span></div>
<div class="t" style="left:2242.6px;top:567.5px;letter-spacing:3.09px">いい発見<span class="ex">！</span></div>
<div class="t" style="left:145.0px;top:850.5px;letter-spacing:2.71px">全国の子どもたちが</div>
<div class="t" style="left:145.0px;top:902.3px;letter-spacing:2.72px">教育コンテンツを利用できる<span class="ex">！</span></div>
<div class="t" style="left:838.6px;top:920.6px;letter-spacing:2.88px"><span class="o"></span>日々の驚きや発見を日記形式で手軽に送信<span class="ex">！</span></div>
<div class="t" style="left:836.6px;top:981.5px;letter-spacing:2.51px"><span class="o"></span>それを基に、スタッフが教育コンテンツを作成<span class="ex">！</span></div>
<div class="t" style="left:727.2px;top:1043.0px;letter-spacing:2.47px"><span class="br"><svg class="bs" width="36" height="33" viewBox="0 0 36 33"><polyline points="33,6 3,18 33,30" fill="none" stroke="#000" stroke-width="3.6" stroke-linecap="round" stroke-linejoin="round"/></svg></span>子ども自身が投稿したネタが教育コンテンツになっていく<span class="ex">！</span><span class="ex">！</span><span class="br"><svg class="bs" width="36" height="33" viewBox="0 0 36 33"><polyline points="3,6 33,18 3,30" fill="none" stroke="#000" stroke-width="3.6" stroke-linecap="round" stroke-linejoin="round"/></svg></span></div>
<div class="t" style="left:1991.0px;top:948.5px;letter-spacing:3.00px"><span class="o"></span><span class="o"></span>に感動したんだな<span class="el">…</span></div>
<div class="t" style="left:171.2px;top:1201.0px;letter-spacing:1.49px">なんか楽しそうー<span class="ex">！</span></div>
<div class="t" style="left:560.0px;top:1258.9px;letter-spacing:2.59px">子ども目線からの</div>
<div class="t" style="left:595.8px;top:1308.9px;letter-spacing:2.98px">様々な「学び」が<span class="ex">！</span></div>
<div class="t" style="left:1863.4px;top:1150.8px;letter-spacing:3.00px">それを基に</div>
<div class="t" style="left:1936.4px;top:1201.2px;letter-spacing:2.68px">教育コンテンツを作成</div>
<div class="t" style="left:1719.2px;top:1288.4px;letter-spacing:3.29px">（動画、資料、問題など）</div>
<div class="t" style="left:924.8px;top:1507.2px;letter-spacing:2.74px"><span class="lw">web</span> サイト内に教育コンテンツを <span class="lw">up</span> <span class="ex">！</span><span class="ex">！</span></div>
</div></body></html>
